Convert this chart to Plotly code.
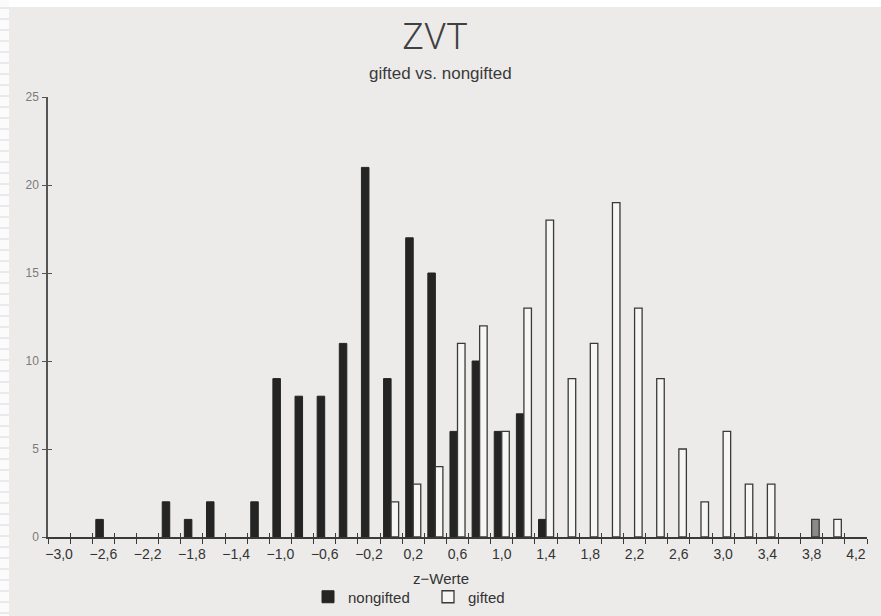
import plotly.graph_objects as go

# Histogram of z-scores (ZVT), bin width 0.2, bins labelled by their centre
bin_centers = [-3.0, -2.8, -2.6, -2.4, -2.2, -2.0, -1.8, -1.6, -1.4, -1.2,
               -1.0, -0.8, -0.6, -0.4, -0.2, 0.0, 0.2, 0.4, 0.6, 0.8,
               1.0, 1.2, 1.4, 1.6, 1.8, 2.0, 2.2, 2.4, 2.6, 2.8,
               3.0, 3.2, 3.4, 3.6, 3.8, 4.0, 4.2]

nongifted = [0, 0, 1, 0, 0, 2, 1, 2, 0, 2,
             9, 8, 8, 11, 21, 9, 17, 15, 6, 10,
             6, 7, 1, 0, 0, 0, 0, 0, 0, 0,
             0, 0, 0, 0, 0, 0, 0]

gifted = [0, 0, 0, 0, 0, 0, 0, 0, 0, 0,
          0, 0, 0, 0, 0, 2, 3, 4, 11, 12,
          6, 13, 18, 9, 11, 19, 13, 9, 5, 2,
          6, 3, 3, 0, 1, 1, 0]

x_tick_values = [-3.0, -2.6, -2.2, -1.8, -1.4, -1.0, -0.6, -0.2, 0.2, 0.6,
                 1.0, 1.4, 1.8, 2.2, 2.6, 3.0, 3.4, 3.8, 4.2]
x_tick_labels = ["−3,0", "−2,6", "−2,2", "−1,8", "−1,4", "−1,0", "−0,6", "−0,2",
                 "0,2", "0,6", "1,0", "1,4", "1,8", "2,2", "2,6", "3,0", "3,4",
                 "3,8", "4,2"]
y_tick_values = [0, 5, 10, 15, 20, 25]

# layout geometry (pixels)
W, H = 881, 616
ML, MR, MT, MB = 48, 14, 97, 79
PW, PH = W - ML - MR, H - MT - MB

half_bin = 0.1
bin_edges = [c - half_bin for c in bin_centers] + [bin_centers[-1] + half_bin]
x_range = [bin_edges[0], bin_edges[-1]]

PAPER = "#ecebea"
INK = "#2b2b2b"
FONT = "Liberation Sans, Arial, sans-serif"


def px_x(px):
    return (px - ML) / PW


def px_y(py):
    return (MT + PH - py) / PH


gifted_fill = ["#8a8a8a" if c == 3.8 else "#f6f6f5" for c in bin_centers]

fig = go.Figure()
fig.add_trace(go.Bar(
    x=bin_centers, y=[v if v else None for v in nongifted], name="nongifted",
    marker=dict(color="#242424", line=dict(color="#242424", width=1)),
    legend="legend",
))
fig.add_trace(go.Bar(
    x=bin_centers, y=[v if v else None for v in gifted], name="gifted",
    marker=dict(color=gifted_fill, line=dict(color="#3a3a3a", width=1.3)),
    legend="legend2",
))
# helper trace so the overlay axes (inner halves of the crossing ticks) are drawn
fig.add_trace(go.Scatter(x=x_range, y=[0, 0], xaxis="x2", yaxis="y2",
                         mode="lines", line=dict(width=0), showlegend=False,
                         hoverinfo="skip"))

legend_font = dict(family=FONT, size=15, color="#333333")

fig.update_layout(
    width=W, height=H,
    margin=dict(l=ML, r=MR, t=MT, b=MB, pad=0, autoexpand=False),
    paper_bgcolor=PAPER, plot_bgcolor=PAPER,
    barmode="group", bargap=0.32, bargroupgap=0.0,
    font=dict(family=FONT, color=INK, size=12),
    title=dict(text="ZVT", x=435 / W, xanchor="center", y=1 - 36 / H,
               yanchor="middle",
               font=dict(family="Roboto, Liberation Sans, sans-serif", size=36,
                         color="#404040", weight=300)),
    xaxis=dict(
        range=x_range, showgrid=False, zeroline=False,
        showline=True, linecolor="#3a3a3a", linewidth=1.5,
        tickmode="array", tickvals=x_tick_values, ticktext=x_tick_labels,
        ticks="", ticklabelstandoff=3,
        tickfont=dict(family=FONT, size=14, color="#333333"),
        minor=dict(tickmode="array", tickvals=bin_edges, ticks="outside",
                   ticklen=5, tickwidth=1.4, tickcolor="#3a3a3a", showgrid=False),
        fixedrange=True,
    ),
    xaxis2=dict(
        range=x_range, overlaying="x", anchor="y", side="bottom",
        showgrid=False, zeroline=False, showline=False,
        tickmode="array", tickvals=bin_edges, ticks="inside",
        ticklen=4, tickwidth=1.4, tickcolor="#3a3a3a", showticklabels=False,
    ),
    yaxis=dict(
        range=[0, 25], showgrid=False, zeroline=False,
        showline=True, linecolor="#555555", linewidth=1.5,
        tickmode="array", tickvals=y_tick_values,
        ticks="outside", ticklen=4, tickwidth=1.2, tickcolor="#555555",
        tickfont=dict(family=FONT, size=12, color="#7a7a7a"),
        ticklabelstandoff=1,
        fixedrange=True,
    ),
    yaxis2=dict(
        range=[0, 25], overlaying="y", anchor="x", side="left",
        showgrid=False, zeroline=False, showline=False,
        tickmode="array", tickvals=y_tick_values, ticks="inside",
        ticklen=4, tickwidth=1.2, tickcolor="#555555", showticklabels=False,
    ),
    legend=dict(
        orientation="h", x=px_x(308), xanchor="left",
        y=px_y(597), yanchor="middle", font=legend_font,
        bgcolor="rgba(0,0,0,0)", itemwidth=30,
    ),
    legend2=dict(
        orientation="h", x=px_x(428), xanchor="left",
        y=px_y(597), yanchor="middle", font=legend_font,
        bgcolor="rgba(0,0,0,0)", itemwidth=30,
    ),
    showlegend=True,
)

# subtitle and axis title
fig.add_annotation(text="gifted vs. nongifted", x=px_x(440), y=px_y(73),
                   xref="paper", yref="paper", showarrow=False, yanchor="middle",
                   font=dict(family=FONT, size=17, color="#3a3a3a"))
fig.add_annotation(text="z−Werte", x=px_x(441), y=px_y(578),
                   xref="paper", yref="paper", showarrow=False, yanchor="middle",
                   font=dict(family=FONT, size=15, color="#333333"))

# white scanner margins along the top and the left edge
fig.add_shape(type="rect", xref="paper", yref="paper", layer="below",
              x0=px_x(0), x1=px_x(W), y0=px_y(7), y1=px_y(0),
              fillcolor="#ffffff", line=dict(width=0))
fig.add_shape(type="rect", xref="paper", yref="paper", layer="below",
              x0=px_x(0), x1=px_x(9), y0=px_y(H), y1=px_y(0),
              fillcolor="#fbfbfb", line=dict(width=0))
for row in range(8, H, 11):
    fig.add_shape(type="line", xref="paper", yref="paper", layer="below",
                  x0=px_x(0), x1=px_x(9), y0=px_y(row), y1=px_y(row),
                  line=dict(color="#d8d8dc", width=1))

fig.write_html("out.html")
